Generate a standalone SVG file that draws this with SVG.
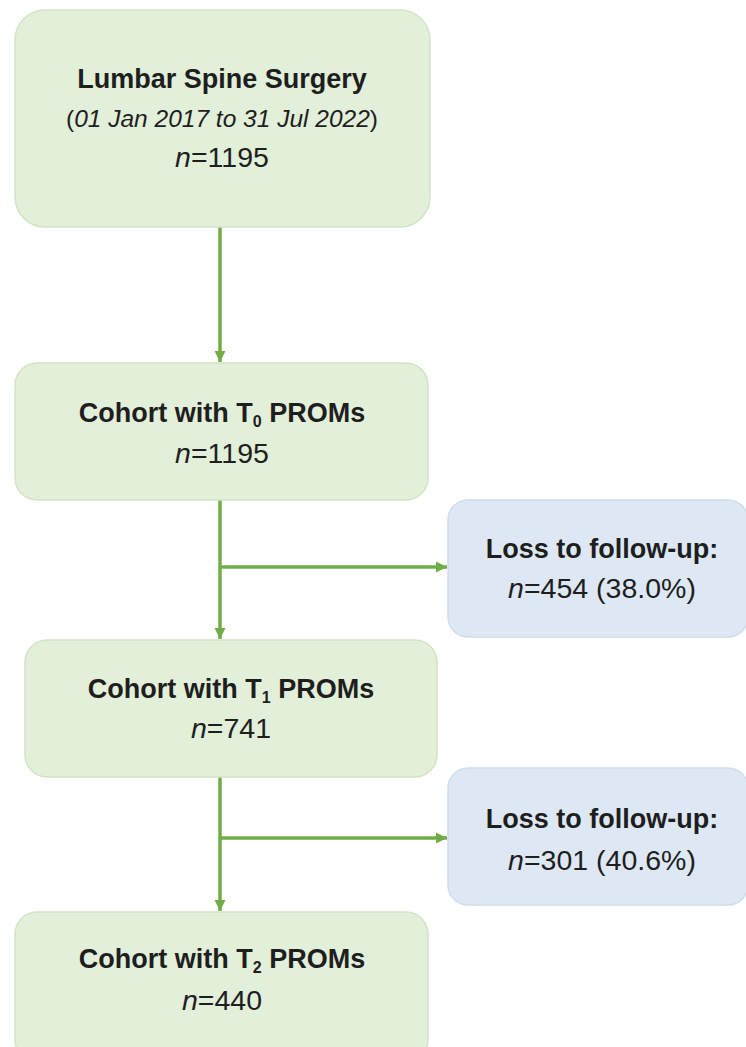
<svg xmlns="http://www.w3.org/2000/svg" width="746" height="1047" viewBox="0 0 746 1047">
  <style>
    .g { fill: #e2efd9; stroke: #d3e4c6; stroke-width: 1.5; }
    .b { fill: #dde8f4; stroke: #d0ddec; stroke-width: 1.5; }
    text { font-family: "Liberation Sans", Arial, sans-serif; fill: #1e1e1e; text-anchor: middle; }
    .t { font-size: 27px; font-weight: bold; }
    .n { font-size: 28.5px; }
    .d { font-size: 24.5px; }
    .i { font-style: italic; }
    .sub { font-size: 16px; }
    .c { stroke: #70ad47; stroke-width: 3.5; fill: none; }
  </style>
  <defs>
    <marker id="ah" viewBox="0 0 10 10" refX="10" refY="5" markerWidth="3.2" markerHeight="3.2" orient="auto" markerUnits="strokeWidth">
      <path d="M0,0 L10,5 L0,10 z" fill="#70ad47"/>
    </marker>
  </defs>
  <rect width="746" height="1047" fill="#ffffff"/>

  <g id="connectors">
    <line class="c" x1="220" y1="227" x2="220" y2="362" marker-end="url(#ah)"/>
    <line class="c" x1="220" y1="500" x2="220" y2="639" marker-end="url(#ah)"/>
    <line class="c" x1="220" y1="567" x2="447" y2="567" marker-end="url(#ah)"/>
    <line class="c" x1="220" y1="777" x2="220" y2="911" marker-end="url(#ah)"/>
    <line class="c" x1="220" y1="838" x2="447" y2="838" marker-end="url(#ah)"/>
  </g>

  <g id="n1">
    <rect class="g" x="15" y="10" width="415" height="217" rx="30"/>
    <text class="t" x="222" y="88">Lumbar Spine Surgery</text>
    <text class="d" x="222" y="127">(<tspan class="i">01 Jan 2017 to 31 Jul 2022</tspan>)</text>
    <text class="n" x="222" y="167"><tspan class="i">n</tspan>=1195</text>
  </g>

  <g id="n2">
    <rect class="g" x="15" y="363" width="413" height="137" rx="22"/>
    <text class="t" x="222" y="422">Cohort with T<tspan class="sub" dy="5">0</tspan><tspan dy="-5"> PROMs</tspan></text>
    <text class="n" x="222" y="463"><tspan class="i">n</tspan>=1195</text>
  </g>

  <g id="s1">
    <rect class="b" x="448" y="500" width="300" height="137" rx="20"/>
    <text class="t" x="602" y="558">Loss to follow-up:</text>
    <text class="n" x="602" y="598"><tspan class="i">n</tspan>=454 (38.0%)</text>
  </g>

  <g id="n3">
    <rect class="g" x="25" y="640" width="412" height="137" rx="22"/>
    <text class="t" x="231" y="698">Cohort with T<tspan class="sub" dy="5">1</tspan><tspan dy="-5"> PROMs</tspan></text>
    <text class="n" x="231" y="738"><tspan class="i">n</tspan>=741</text>
  </g>

  <g id="s2">
    <rect class="b" x="448" y="768" width="300" height="137" rx="20"/>
    <text class="t" x="602" y="828">Loss to follow-up:</text>
    <text class="n" x="602" y="870"><tspan class="i">n</tspan>=301 (40.6%)</text>
  </g>

  <g id="n4">
    <rect class="g" x="15" y="912" width="413" height="150" rx="22"/>
    <text class="t" x="222" y="968">Cohort with T<tspan class="sub" dy="5">2</tspan><tspan dy="-5"> PROMs</tspan></text>
    <text class="n" x="222" y="1010"><tspan class="i">n</tspan>=440</text>
  </g>
</svg>
